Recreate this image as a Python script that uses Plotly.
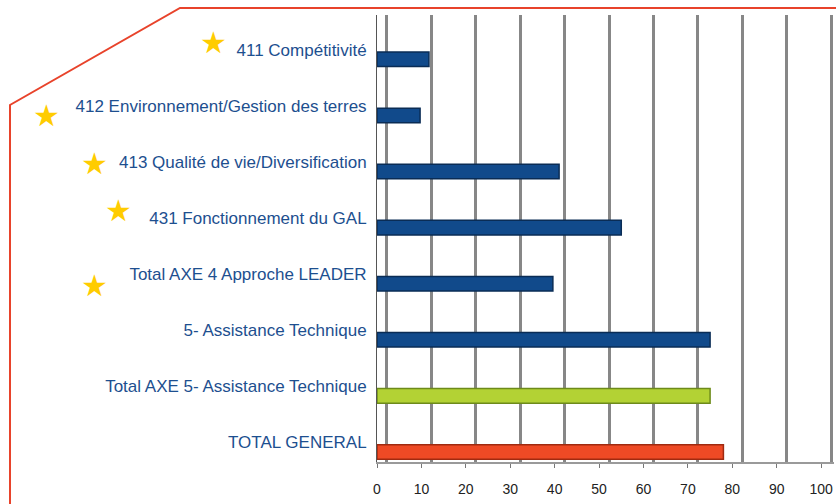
import plotly.graph_objects as go

# data
categories = [
    "411 Compétitivité",
    "412 Environnement/Gestion des terres",
    "413 Qualité de vie/Diversification",
    "431 Fonctionnement du GAL",
    "Total AXE 4 Approche LEADER",
    "5- Assistance Technique",
    "Total AXE 5- Assistance Technique",
    "TOTAL GENERAL",
]
values = [11.7, 9.7, 41.0, 55.0, 39.6, 75.0, 75.0, 78.0]
x_ticks = [0, 10, 20, 30, 40, 50, 60, 70, 80, 90, 100]

BLUE = "#114a8b"
bar_colors = [BLUE] * 6 + ["#b3d234", "#ee4a25"]
bar_lines = ["#0a2c55"] * 6 + ["#6d8a1a", "#a02a10"]

W, H = 836, 504
L, R, T, B = 377, 2, 15, 42
pw, ph = W - L - R, H - T - B


def paper(px, py):
    # pixel -> paper coords (relative to the plot area)
    return (px - L) / pw, (H - B - py) / ph


n = len(categories)
ypos = list(range(n - 1, -1, -1))  # first category on top

fig = go.Figure()
fig.add_trace(go.Bar(
    x=values,
    y=ypos,
    orientation="h",
    width=0.26,
    marker=dict(color=bar_colors, line=dict(color=bar_lines, width=1.5)),
    showlegend=False,
    hoverinfo="x",
))
# dummy trace so the offset "back wall" grid axis is rendered
fig.add_trace(go.Scatter(x=[], y=[], xaxis="x2", showlegend=False))

fig.update_layout(
    width=W,
    height=H,
    margin=dict(l=L, r=R, t=T, b=B, autoexpand=False),
    paper_bgcolor="white",
    plot_bgcolor="white",
    font=dict(family="Liberation Sans, Arial, sans-serif"),
    xaxis=dict(
        range=[0, 102.9],
        tickvals=x_ticks,
        showgrid=False,
        zeroline=False,
        showline=True,
        linecolor="#9a9a9a",
        linewidth=2,
        ticks="outside",
        ticklen=4,
        tickcolor="#777",
        ticklabelstandoff=9,
        automargin=False,
        tickfont=dict(size=14, color="#222"),
    ),
    xaxis2=dict(
        overlaying="x",
        anchor="y",
        range=[-2.25, 100.65],
        tickvals=x_ticks,
        showticklabels=False,
        showgrid=True,
        gridcolor="#878787",
        gridwidth=3,
        zeroline=False,
        automargin=False,
    ),
    yaxis=dict(
        range=[-0.178, 7.79],
        tickvals=[p + 0.17 for p in ypos],
        ticktext=categories,
        showgrid=False,
        zeroline=False,
        showline=True,
        linecolor="#555",
        linewidth=1,
        ticks="",
        ticklabelstandoff=6,
        automargin=False,
        tickfont=dict(size=17, color="#1d4f8f"),
    ),
)

# red frame with cut corner
p0 = paper(10, 504)
p1 = paper(10, 105)
p2 = paper(180, 8)
p3 = paper(836, 8)
fig.add_shape(
    type="path",
    xref="paper", yref="paper",
    path=f"M {p0[0]},{p0[1]} L {p1[0]},{p1[1]} L {p2[0]},{p2[1]} L {p3[0]},{p3[1]}",
    line=dict(color="#e8432b", width=2),
)

# gold stars next to the axe 4 measures
star_px = [(213, 43), (46, 116), (94, 163), (118, 211), (94, 285)]
for sx, sy in star_px:
    ax, ay = paper(sx, sy)
    fig.add_annotation(
        x=ax, y=ay, xref="paper", yref="paper",
        text="★", showarrow=False,
        font=dict(family="DejaVu Sans", size=30, color="#ffcc00"),
        xanchor="center", yanchor="middle",
    )

# drop the browser's default body margin so the figure sits at the page corner
fig.write_html(
    "out.html",
    config={"displayModeBar": False},
    post_script="document.body.style.margin='0';",
)
